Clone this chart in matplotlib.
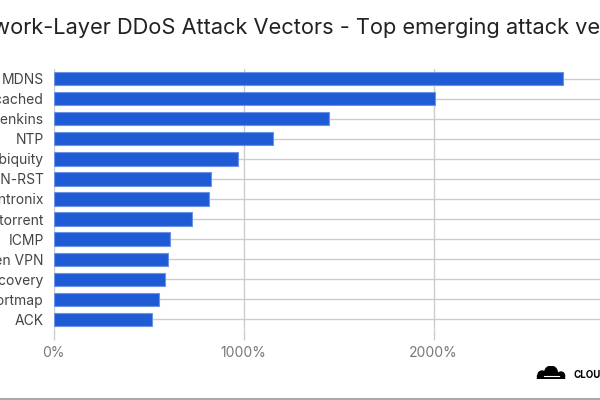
import matplotlib
matplotlib.use("Agg")
import matplotlib.pyplot as plt
from matplotlib.patches import Circle, Rectangle
from matplotlib.lines import Line2D

vectors = ["MDNS", "Memcached", "Jenkins", "NTP", "Ubiquity", "SYN-RST",
           "Lantronix", "Bittorrent", "ICMP", "Open VPN", "Discovery",
           "Portmap", "ACK"]
growth = [2683, 2008, 1450, 1157, 969, 831, 820, 731, 615, 601, 589, 554, 520]
xticks = [0, 1000, 2000]
xtick_labels = ["0%", "1000%", "2000%"]
title = "Network-Layer DDoS Attack Vectors - Top emerging attack vectors"

plt.rcParams["font.family"] = ["Inter", "DejaVu Sans"]

W, H = 600, 400
fig = plt.figure(figsize=(6, 4), dpi=100)
ax = fig.add_axes([53.5 / W, 1 - 329.3 / H, 570 / W, 260.6 / H])

pos = list(range(len(vectors)))
ax.barh(pos, growth, height=0.66, color="#1e5bd4", edgecolor="#6c93e6",
        linewidth=0.8, zorder=3)
for p in pos:
    ax.axhline(p, color="#cccccc", linewidth=1, zorder=1)

ax.set_xlim(0, 3000)
ax.set_ylim(len(vectors) - 0.5, -0.5)
ax.set_yticks(pos)
ax.set_yticklabels(vectors, fontsize=10, color="#444444")
ax.set_xticks(xticks)
ax.set_xticklabels(xtick_labels, fontsize=10, color="#777777")
ax.tick_params(axis="y", length=0, pad=7)
ax.tick_params(axis="x", length=8, width=1, color="#cccccc", pad=4)
ax.grid(axis="x", color="#cccccc", linewidth=1, zorder=1)
ax.set_axisbelow(True)
for s in ax.spines.values():
    s.set_visible(False)

fig.text(-44 / W, 1 - 28 / H, title, fontsize=15.7, color="#222222",
         ha="left", va="center")

# logo
lax = fig.add_axes([535 / W, 1 - 379 / H, 34 / W, 13 / H])
lax.set_xlim(0, 34)
lax.set_ylim(0, 13)
lax.axis("off")
lax.add_patch(Circle((16, 6.5), 6.3, color="black"))
lax.add_patch(Circle((7, 4), 4, color="black"))
lax.add_patch(Circle((26, 3.5), 3.5, color="black"))
lax.add_patch(Rectangle((2, 0), 27, 4, color="black"))
lax.plot([9, 24], [3, 3], color="white", linewidth=0.8)
fig.text(573 / W, 1 - 375 / H, "CLOUDFLARE", fontsize=7, fontweight="bold",
         color="black", ha="left", va="center")

fig.add_artist(Line2D([0, 1], [0.6 / H, 0.6 / H], color="#aaaaaa",
                      linewidth=1.5, transform=fig.transFigure))

fig.savefig("out.png", dpi=100)
